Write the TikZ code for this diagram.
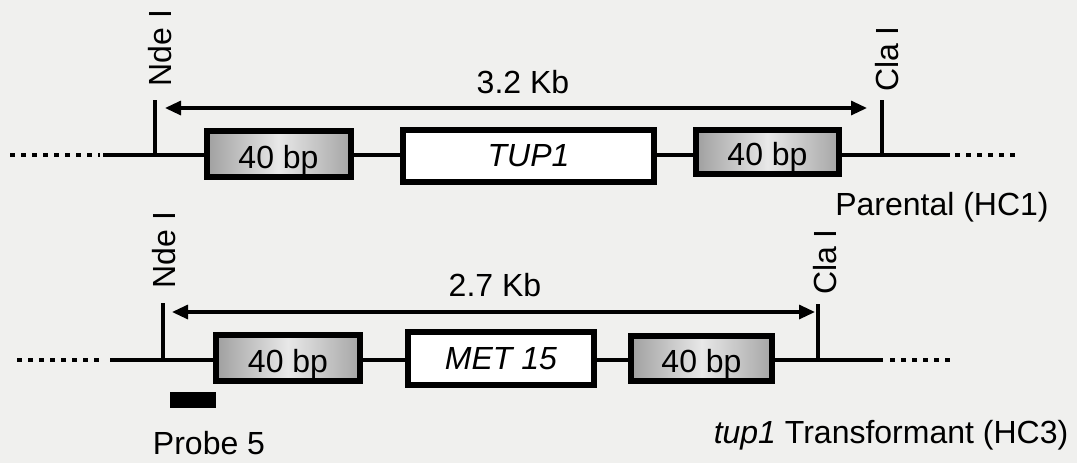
\documentclass[tikz,border=0pt]{standalone}
\usepackage{fontspec}
\setmainfont{Liberation Sans}
\usetikzlibrary{arrows.meta}
\definecolor{bg}{RGB}{240,240,238}
\begin{document}
\begin{tikzpicture}[x=0.5pt,y=-0.5pt,
  font=\fontsize{16}{19}\selectfont,
  dna/.style={line width=2.4pt},
  dots/.style={line width=2.4pt,dash pattern=on 2.5pt off 3pt},
  site/.style={line width=2.4pt},
  span/.style={line width=1.6pt,{Triangle[length=8pt,width=7pt]}-{Triangle[length=8pt,width=7pt]}},
  repeatbox/.style={draw,line width=3pt,inner sep=0pt,text height=14pt,text depth=0pt,left color=gray!75,right color=gray!70,middle color=gray!18},
  genebox/.style={draw,line width=3pt,inner sep=0pt,fill=white},
  lbl/.style={inner sep=0pt},
  vlbl/.style={inner sep=0pt,rotate=90}]
\fill[bg] (0,0) rectangle (1077,463);
\useasboundingbox (0,0) rectangle (1077,463);
% ---------- Parental row ----------
\coordinate (pd1) at (10,155);
\coordinate (pd2) at (100,155);
\coordinate (ps1) at (103,155);
\coordinate (pe1) at (950,155);
\coordinate (pd3) at (955,155);
\coordinate (pd4) at (1020,155);
\node[repeatbox,minimum width=72pt,minimum height=23pt] (pa) at (278.5,154) {40 bp};
\node[genebox,minimum width=125.5pt,minimum height=26pt] (pg) at (528.5,155.5) {\itshape TUP1};
\node[repeatbox,minimum width=71.5pt,minimum height=22pt] (pb) at (767.5,151.5) {40 bp};
\draw[dots] (pd1) -- (pd2);
\draw[dna] (ps1) -- (ps1 -| pa.west);
\draw[dna] (ps1 -| pa.east) -- (ps1 -| pg.west);
\draw[dna] (ps1 -| pg.east) -- (ps1 -| pb.west);
\draw[dna] (ps1 -| pb.east) -- (pe1);
\draw[dots] (pd3) -- (pd4);
\coordinate (pn1) at (155,100);
\coordinate (pn2) at (155,156);
\coordinate (pc1) at (882,100);
\coordinate (pc2) at (882,156);
\draw[site] (pn1) -- (pn2);
\draw[site] (pc1) -- (pc2);
\node[vlbl] (pnl) at (160,48) {Nde I};
\node[vlbl] (pcl) at (887,59) {Cla I};
\coordinate (pa1) at (165,108);
\coordinate (pa2) at (867,108);
\draw[span] (pa1) -- (pa2);
\node[lbl] (pkb) at (523,82) {3.2 Kb};
\node[lbl] (ptitle) at (942,207) {Parental (HC1)};
% ---------- Transformant row ----------
\coordinate (td1) at (17,360);
\coordinate (td2) at (103,360);
\coordinate (ts1) at (110,360);
\coordinate (te1) at (883,360);
\coordinate (td3) at (890,360);
\coordinate (td4) at (955,360);
\node[repeatbox,minimum width=72pt,minimum height=23pt] (ta) at (288,358) {40 bp};
\node[genebox,minimum width=93pt,minimum height=26.5pt] (tg) at (501,358.5) {\itshape MET 15};
\node[repeatbox,minimum width=70.5pt,minimum height=22.5pt] (tb) at (701.5,358.5) {40 bp};
\draw[dots] (td1) -- (td2);
\draw[dna] (ts1) -- (ts1 -| ta.west);
\draw[dna] (ts1 -| ta.east) -- (ts1 -| tg.west);
\draw[dna] (ts1 -| tg.east) -- (ts1 -| tb.west);
\draw[dna] (ts1 -| tb.east) -- (te1);
\draw[dots] (td3) -- (td4);
\coordinate (tn1) at (163,303);
\coordinate (tn2) at (163,361);
\coordinate (tc1) at (818,304);
\coordinate (tc2) at (818,361);
\draw[site] (tn1) -- (tn2);
\draw[site] (tc1) -- (tc2);
\node[vlbl] (tnl) at (164,250) {Nde I};
\node[vlbl] (tcl) at (825,262) {Cla I};
\coordinate (ta1) at (172,312);
\coordinate (ta2) at (815,312);
\draw[span] (ta1) -- (ta2);
\node[lbl] (tkb) at (495,285) {2.7 Kb};
\node[fill=black,inner sep=0pt,minimum width=23pt,minimum height=8pt] (probe) at (193,400) {};
\node[lbl] (probel) at (209,443) {Probe 5};
\node[lbl] (ttitle) at (891,435) {\textit{tup1} Transformant (HC3)};
\end{tikzpicture}
\end{document}
